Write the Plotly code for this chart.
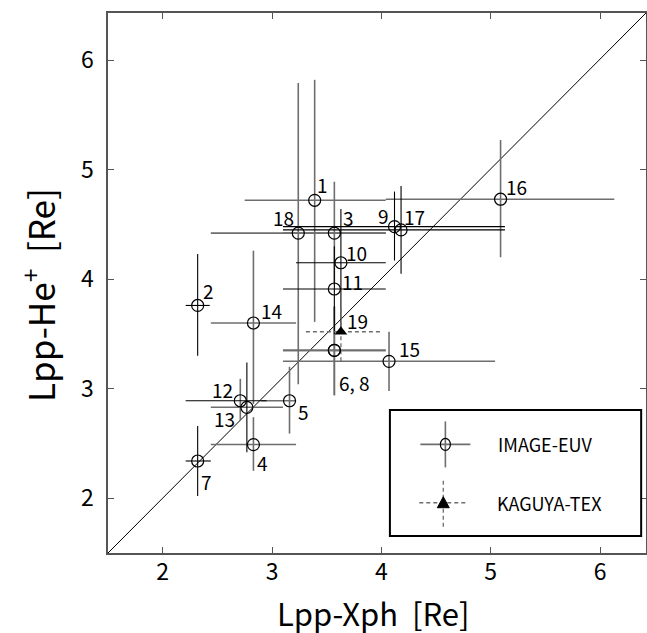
import plotly.graph_objects as go

# ---- data ----
ids   = ["1", "2", "3", "4", "5", "6", "7", "8", "9", "10", "11", "12", "13", "14", "15", "16", "17", "18"]
x_ph  = [3.39, 2.32, 3.57, 2.83, 3.16, 3.57, 2.32, 3.57, 4.12, 3.63, 3.57, 2.71, 2.77, 2.83, 4.07, 5.09, 4.18, 3.24]
y_he  = [4.72, 3.76, 4.42, 2.49, 2.89, 3.35, 2.34, 3.35, 4.48, 4.15, 3.91, 2.89, 2.83, 3.60, 3.25, 4.73, 4.45, 4.42]
x_lo  = [2.75, 2.21, 3.10, 2.44, 2.90, 3.10, 2.21, 3.10, 3.10, 3.22, 3.10, 2.21, 2.44, 2.44, 3.10, 4.04, 3.10, 2.44]
x_hi  = [4.04, 2.43, 4.04, 3.22, 3.22, 4.04, 2.44, 4.04, 5.13, 4.04, 4.04, 2.95, 3.10, 3.22, 5.04, 6.13, 5.13, 4.04]
y_lo  = [3.61, 3.30, 3.95, 2.25, 2.59, 2.94, 2.02, 2.94, 4.17, 3.55, 3.50, 2.71, 2.42, 2.86, 2.98, 4.20, 4.05, 3.04]
y_hi  = [5.82, 4.23, 4.89, 2.74, 3.20, 3.75, 2.66, 3.75, 4.80, 4.64, 4.30, 3.09, 3.24, 4.26, 3.52, 5.27, 4.85, 5.79]

# KAGUYA-TEX
k_x, k_y = [3.63], [3.52]
k_xlo, k_xhi = [3.31], [4.00]
k_ylo, k_yhi = [3.25], [3.75]
k_ids = ["19"]

legend_names = ["IMAGE-EUV", "KAGUYA-TEX"]
x_title = "Lpp-Xph\u00a0\u00a0[Re]"
y_title = "Lpp-He<sup>+</sup>\u00a0\u00a0[Re]"

# ---- styles ----
GRAY = "#6e6e6e"
BLACK = "#000000"
h_col = {"1": GRAY, "2": BLACK, "3": GRAY, "4": GRAY, "5": GRAY, "6": GRAY, "7": BLACK, "8": GRAY,
         "9": BLACK, "10": BLACK, "11": BLACK, "12": BLACK, "13": GRAY, "14": GRAY, "15": GRAY,
         "16": GRAY, "17": BLACK, "18": GRAY}
v_col = {"1": GRAY, "2": BLACK, "3": GRAY, "4": GRAY, "5": GRAY, "6": GRAY, "7": BLACK, "8": GRAY,
         "9": BLACK, "10": BLACK, "11": BLACK, "12": GRAY, "13": BLACK, "14": GRAY, "15": GRAY,
         "16": GRAY, "17": BLACK, "18": GRAY}
label_text = {"6": "6, 8", "8": ""}
label_off = {"1": (8, 16), "2": (11, 15), "3": (14, 16), "4": (9, -18), "5": (14, -11), "6": (20, -32),
             "7": (9, -21), "9": (-11, 11), "10": (16, 10), "11": (18, 8), "12": (-18, 11),
             "13": (-22, -11), "14": (18, 12), "15": (20, 13), "16": (16, 13), "17": (13, 13),
             "18": (-15, 16), "19": (17, 11)}

FONT = "Noto Sans CJK JP, Noto Sans, sans-serif"
XR = [1.5, 6.42]
YR = [1.5, 6.43]

fig = go.Figure()

# diagonal y = x, corner to corner
fig.add_trace(go.Scatter(x=[XR[0], XR[1]], y=[YR[0], YR[1]], mode="lines",
                         line=dict(color="black", width=1), hoverinfo="skip", showlegend=False))

def add_segments(xs, ys, color, width, dash="solid"):
    if xs:
        fig.add_trace(go.Scatter(x=xs, y=ys, mode="lines", line=dict(color=color, width=width, dash=dash),
                                 hoverinfo="skip", showlegend=False))

for col, w in ((GRAY, 1.6), (BLACK, 1.1)):
    xs, ys = [], []
    for i, pid in enumerate(ids):
        if h_col[pid] == col:
            xs += [x_lo[i], x_hi[i], None]
            ys += [y_he[i], y_he[i], None]
        if v_col[pid] == col:
            xs += [x_ph[i], x_ph[i], None]
            ys += [y_lo[i], y_hi[i], None]
    add_segments(xs, ys, col, w)

kx, ky = [], []
for i in range(len(k_x)):
    kx += [k_xlo[i], k_xhi[i], None, k_x[i], k_x[i], None]
    ky += [k_y[i], k_y[i], None, k_ylo[i], k_yhi[i], None]
add_segments(kx, ky, GRAY, 1.3, dash="4px,3px")

fig.add_trace(go.Scatter(x=x_ph, y=y_he, mode="markers", name=legend_names[0],
                         marker=dict(symbol="circle-open", size=12, color="black", line=dict(width=1.2)),
                         showlegend=False))
fig.add_trace(go.Scatter(x=k_x, y=k_y, mode="markers", name=legend_names[1],
                         marker=dict(symbol="triangle-up", size=11, color="black"),
                         showlegend=False))

for xs_, ys_, idl in ((x_ph, y_he, ids), (k_x, k_y, k_ids)):
    for i, pid in enumerate(idl):
        txt = label_text.get(pid, pid)
        if not txt:
            continue
        dx, dy = label_off[pid]
        fig.add_annotation(x=xs_[i], y=ys_[i], text=txt, showarrow=False, xshift=dx, yshift=dy,
                           xanchor="center", yanchor="middle",
                           font=dict(family=FONT, size=19, color="black"))

# legend box (drawn)
shapes = []
shapes.append(dict(type="rect", xref="paper", yref="paper", x0=0.524, x1=0.991, y0=0.0315, y1=0.265,
                   line=dict(color="black", width=2), fillcolor="white", layer="above"))
lx1, ly1 = 0.6271, 0.2011
lx2, ly2 = 0.6232, 0.0931
shapes.append(dict(type="line", xref="paper", yref="paper", xsizemode="pixel", xanchor=lx1,
                   x0=-25, x1=25, y0=ly1, y1=ly1, line=dict(color=GRAY, width=1.6), layer="above"))
shapes.append(dict(type="line", xref="paper", yref="paper", ysizemode="pixel", yanchor=ly1,
                   y0=-23, y1=23, x0=lx1, x1=lx1, line=dict(color=GRAY, width=1.6), layer="above"))
shapes.append(dict(type="circle", xref="paper", yref="paper", xsizemode="pixel", ysizemode="pixel",
                   xanchor=lx1, yanchor=ly1, x0=-5, x1=5, y0=-6, y1=6,
                   line=dict(color="black", width=1.2), layer="above"))
shapes.append(dict(type="line", xref="paper", yref="paper", xsizemode="pixel", xanchor=lx2,
                   x0=-24, x1=24, y0=ly2, y1=ly2, line=dict(color=GRAY, width=1.3, dash="4px,3px"), layer="above"))
shapes.append(dict(type="line", xref="paper", yref="paper", ysizemode="pixel", yanchor=ly2,
                   y0=-24, y1=24, x0=lx2, x1=lx2, line=dict(color=GRAY, width=1.3, dash="4px,3px"), layer="above"))
shapes.append(dict(type="path", xref="paper", yref="paper", xsizemode="pixel", ysizemode="pixel",
                   xanchor=lx2, yanchor=ly2, path="M -6 -5 L 6 -5 L 0 6 Z",
                   fillcolor="black", line=dict(color="black", width=1), layer="above"))
fig.update_layout(shapes=shapes)
fig.add_annotation(xref="paper", yref="paper", x=0.7212, y=ly1, xanchor="left", yanchor="middle",
                   text=legend_names[0], showarrow=False, font=dict(family=FONT, size=18, color="black"))
fig.add_annotation(xref="paper", yref="paper", x=0.7193, y=ly2, xanchor="left", yanchor="middle",
                   text=legend_names[1], showarrow=False, font=dict(family=FONT, size=18, color="black"))

# axis titles
fig.add_annotation(xref="paper", yref="paper", x=0.4926, y=-0.110, xanchor="center", yanchor="middle",
                   text=x_title, showarrow=False, font=dict(family=FONT, size=31, color="black"))
fig.add_annotation(xref="paper", yref="paper", x=-0.128, y=0.478, xanchor="center", yanchor="middle",
                   text=y_title, showarrow=False, textangle=-90,
                   font=dict(family=FONT, size=35, color="black"))

axis_common = dict(showgrid=False, zeroline=False, showline=True, linecolor="#555555", linewidth=1.5,
                   mirror="allticks", ticks="inside", ticklen=6, tickcolor="#555555", tickwidth=1.2,
                   tickfont=dict(family=FONT, size=23, color="black"), dtick=1, automargin=False)
fig.update_xaxes(range=XR, tick0=2, ticklabelstandoff=-2, **axis_common)
fig.update_yaxes(range=YR, tick0=2, ticklabelstandoff=8, **axis_common)

fig.update_layout(width=647, height=633, margin=dict(l=108, r=1, t=13, b=80, autoexpand=False),
                  plot_bgcolor="white", paper_bgcolor="white", showlegend=False)

fig.write_html("out.html", config={"displayModeBar": False},
               post_script="document.body.style.margin='0';")
